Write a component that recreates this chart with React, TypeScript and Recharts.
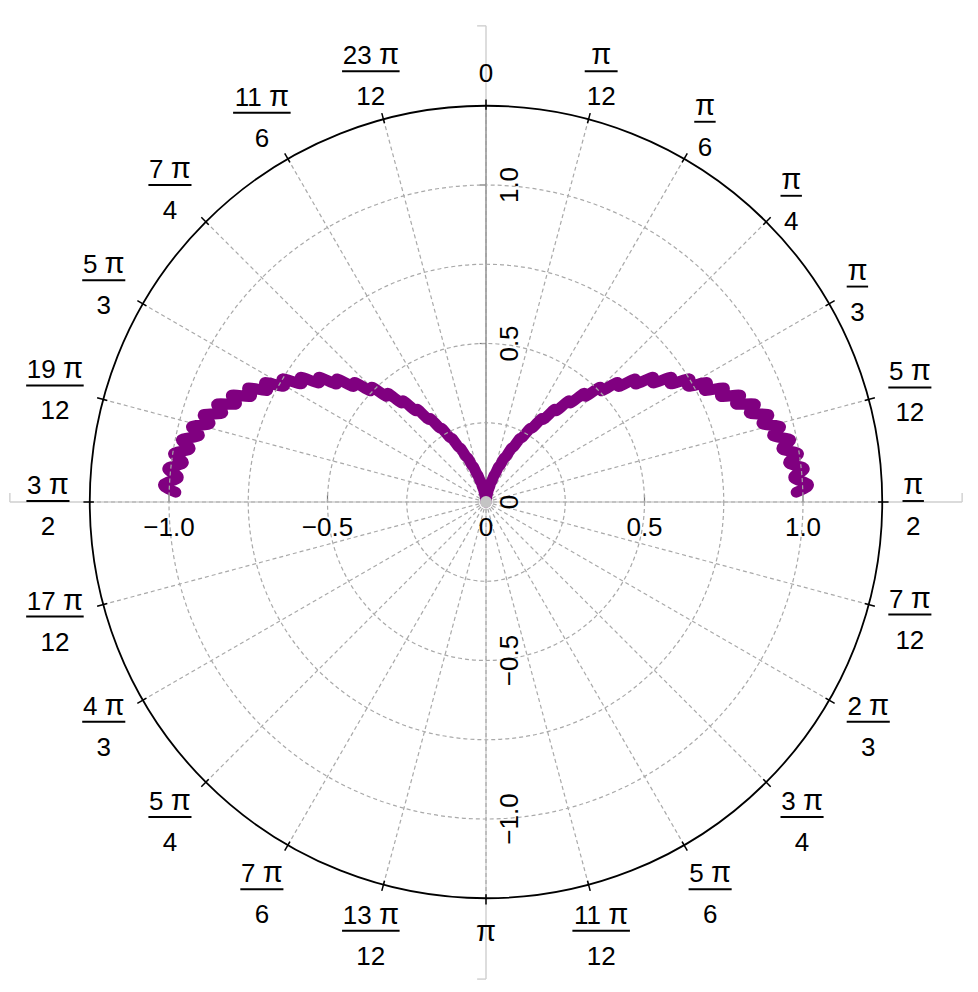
import React from 'react';
import { ComposedChart, XAxis, YAxis, Line, ReferenceLine, ReferenceDot } from 'recharts';

// ---------- layout ----------
const W = 978;
const H = 992;
const DOMAIN = 1.52;
const MARGIN = { left: 4.16, right: 10.16, top: 20.16, bottom: 8.16 };
const PX = (W - MARGIN.left - MARGIN.right) / (2 * DOMAIN); // pixels per data unit
const FONT = '"Liberation Sans", Arial, Helvetica, sans-serif';
const PI_FONT = '"Liberation Sans", Arial, sans-serif';
const FS = 26;
const PI_FS = 29;

// ---------- data (θ in degrees, clockwise from top; r radius) ----------
const rightTheta = [0, 1.4, 2.8, 4.2, 5.6, 7, 8.4, 9.8, 11.2, 12.6, 14, 15.4, 16.8, 18.2, 19.6, 21, 22.4, 23.8, 25.2, 26.6, 28, 29.4, 30.8, 32.2, 33.6, 35, 36.4, 37.8, 39.2, 40.6, 42, 43.4, 44.8, 46.2, 47.6, 49, 50.4, 51.8, 53.2, 54.6, 56, 57.4, 58.8, 60.2, 61.6, 63, 64.4, 65.8, 67.2, 68.6, 70, 71.4, 72.8, 74.2, 75.6, 77, 78.4, 79.8, 81.2, 82.6, 84, 85.4, 86.8, 88.2];
const rightR = [0, 0.001, 0.002, 0.005, 0.011, 0.014, 0.023, 0.027, 0.040, 0.046, 0.062, 0.068, 0.087, 0.095, 0.117, 0.124, 0.149, 0.158, 0.186, 0.195, 0.226, 0.235, 0.268, 0.278, 0.315, 0.320, 0.362, 0.366, 0.411, 0.413, 0.460, 0.460, 0.510, 0.507, 0.559, 0.556, 0.609, 0.602, 0.657, 0.648, 0.704, 0.692, 0.750, 0.735, 0.792, 0.775, 0.832, 0.813, 0.870, 0.847, 0.903, 0.878, 0.933, 0.906, 0.958, 0.929, 0.980, 0.949, 0.997, 0.963, 1.009, 0.974, 1.017, 0.979];
const leftTheta = [360, 358.6, 357.2, 355.8, 354.4, 353, 351.6, 350.2, 348.8, 347.4, 346, 344.6, 343.2, 341.8, 340.4, 339, 337.6, 336.2, 334.8, 333.4, 332, 330.6, 329.2, 327.8, 326.4, 325, 323.6, 322.2, 320.8, 319.4, 318, 316.6, 315.2, 313.8, 312.4, 311, 309.6, 308.2, 306.8, 305.4, 304, 302.6, 301.2, 299.8, 298.4, 297, 295.6, 294.2, 292.8, 291.4, 290, 288.6, 287.2, 285.8, 284.4, 283, 281.6, 280.2, 278.8, 277.4, 276, 274.6, 273.2, 271.8];
const leftR = [0, 0.001, 0.002, 0.005, 0.011, 0.014, 0.023, 0.027, 0.040, 0.046, 0.062, 0.068, 0.087, 0.095, 0.117, 0.124, 0.149, 0.158, 0.186, 0.195, 0.226, 0.235, 0.268, 0.278, 0.315, 0.320, 0.362, 0.366, 0.411, 0.413, 0.460, 0.460, 0.510, 0.507, 0.559, 0.556, 0.609, 0.602, 0.657, 0.648, 0.704, 0.692, 0.750, 0.735, 0.792, 0.775, 0.832, 0.813, 0.870, 0.847, 0.903, 0.878, 0.933, 0.906, 0.958, 0.929, 0.980, 0.949, 0.997, 0.963, 1.009, 0.974, 1.017, 0.979];

// ---------- grid / ticks ----------
const gridRadii = [0.25, 0.5, 0.75, 1.0];
const outerRadius = 1.25;
const angleTicks = [0, 15, 30, 45, 60, 75, 90, 105, 120, 135, 150, 165, 180, 195, 210, 225, 240, 255, 270, 285, 300, 315, 330, 345];
const angleNum = ['0', 'π', 'π', 'π', 'π', '5 π', 'π', '7 π', '2 π', '3 π', '5 π', '11 π', 'π', '13 π', '7 π', '5 π', '4 π', '17 π', '3 π', '19 π', '5 π', '7 π', '11 π', '23 π'];
const angleDen = ['', '12', '6', '4', '3', '12', '2', '12', '3', '4', '6', '12', '', '12', '6', '4', '3', '12', '2', '12', '3', '4', '6', '12'];
const radialTicks = [-1, -0.5, 0, 0.5, 1];
const radialTickLabels = ['−1.0', '−0.5', '0', '0.5', '1.0'];
const axisTicks = [-1, -0.5, 0.5, 1];
const upperAxisTicks = [0.5, 1];

// ---------- helpers ----------
const rad = (d: number) => (d * Math.PI) / 180;
const pol = (deg: number, r: number) => ({ x: r * Math.sin(rad(deg)), y: r * Math.cos(rad(deg)) });
const charW = (c: string) => (c === ' ' ? 0.278 * FS : c === 'π' ? 0.6 * PI_FS : 0.556 * FS);
const textW = (s: string) => s.split('').reduce((a, c) => a + charW(c), 0);

const rightPts = rightTheta.map((t, i) => pol(t, rightR[i]));
const leftPts = leftTheta.map((t, i) => pol(t, leftR[i]));

const txt = { fontFamily: FONT, fontSize: FS, fill: '#000' } as const;

// render a string, drawing π slightly larger
function Rich({ s }: { s: string }) {
  const parts = s.split('π');
  const out: any[] = [];
  parts.forEach((p, i) => {
    if (p) out.push(<tspan key={'t' + i}>{p}</tspan>);
    if (i < parts.length - 1) out.push(<tspan key={'p' + i} fontFamily={PI_FONT} fontSize={PI_FS}>π</tspan>);
  });
  return <>{out}</>;
}

function AngleLabel(props: any) {
  const { cx, cy, num, den } = props;
  if (!den) {
    return (
      <text x={cx} y={cy} textAnchor="middle" dominantBaseline="central" {...txt}>
        <Rich s={num} />
      </text>
    );
  }
  const w = Math.max(textW(num), textW(den)) + 4;
  return (
    <g>
      <text x={cx} y={cy - 8} textAnchor="middle" {...txt}><Rich s={num} /></text>
      <line x1={cx - w / 2} x2={cx + w / 2} y1={cy - 1} y2={cy - 1} stroke="#000" strokeWidth={1.9} />
      <text x={cx} y={cy + 33} textAnchor="middle" {...txt}>{den}</text>
    </g>
  );
}

// label box is pushed out until it touches a circle of radius R0 (px)
function labelRadius(deg: number, num: string, den: string) {
  const a = (den ? Math.max(textW(num), textW(den)) + 4 : textW(num)) / 2;
  const b = den ? 27.5 : 12.5;
  const s = Math.abs(Math.sin(rad(deg)));
  const c = Math.abs(Math.cos(rad(deg)));
  const ext = Math.min(s > 1e-6 ? a / s : 1e9, c > 1e-6 ? b / c : 1e9);
  return (416.5 + ext) / PX;
}

const SPOKE = '#a9a9a9';

export default function App() {
  return (
    <div style={{ position: 'absolute', left: 0, top: 0, background: '#fff' }}>
      <ComposedChart width={W} height={H} margin={MARGIN}>
        <XAxis type="number" dataKey="x" domain={[-DOMAIN, DOMAIN]} hide allowDataOverflow />
        <YAxis type="number" dataKey="y" domain={[-DOMAIN, DOMAIN]} hide allowDataOverflow />

        {/* light axis lines */}
        <ReferenceLine segment={[{ x: -1.502, y: 0 }, { x: 1.502, y: 0 }]} stroke="#cfcfcf" strokeWidth={1.4} ifOverflow="visible" />
        <ReferenceLine segment={[{ x: -1.502, y: 0 }, { x: -1.502, y: 0.028 }]} stroke="#cfcfcf" strokeWidth={1.4} ifOverflow="visible" />
        <ReferenceLine segment={[{ x: 1.502, y: 0 }, { x: 1.502, y: 0.028 }]} stroke="#cfcfcf" strokeWidth={1.4} ifOverflow="visible" />
        <ReferenceLine segment={[{ x: 0, y: -1.505 }, { x: 0, y: 1.502 }]} stroke="#cfcfcf" strokeWidth={1.4} ifOverflow="visible" />
        <ReferenceLine segment={[{ x: 0, y: 1.502 }, { x: -0.028, y: 1.502 }]} stroke="#cfcfcf" strokeWidth={1.4} ifOverflow="visible" />
        <ReferenceLine segment={[{ x: 0, y: -1.505 }, { x: -0.028, y: -1.505 }]} stroke="#cfcfcf" strokeWidth={1.4} ifOverflow="visible" />

        {/* dashed grid circles */}
        {gridRadii.map((g) => (
          <ReferenceDot key={'c' + g} x={0} y={0} r={g * PX} fill="none" stroke={SPOKE} strokeWidth={1.2} strokeDasharray="4 3" ifOverflow="visible" />
        ))}

        {/* spokes */}
        {angleTicks.map((a) => (
          <ReferenceLine key={'s' + a} segment={[{ x: 0, y: 0 }, pol(a, outerRadius)]} stroke={SPOKE} strokeWidth={1.2} strokeDasharray="4 3" ifOverflow="visible" />
        ))}

        {/* radial axis (upper) */}
        <ReferenceLine segment={[{ x: 0, y: 0 }, { x: 0, y: outerRadius }]} stroke="#9a9a9a" strokeWidth={1.4} ifOverflow="visible" />
        {upperAxisTicks.map((v) => (
          <ReferenceLine key={'ut' + v} segment={[{ x: 0, y: v }, { x: -0.02, y: v }]} stroke="#777" strokeWidth={1.2} ifOverflow="visible" />
        ))}
        {axisTicks.map((v) => (
          <ReferenceLine key={'ht' + v} segment={[{ x: v, y: 0 }, { x: v, y: 0.022 }]} stroke="#777" strokeWidth={1.2} ifOverflow="visible" />
        ))}

        {/* outer circle and its ticks */}
        <ReferenceDot x={0} y={0} r={outerRadius * PX} fill="none" stroke="#000" strokeWidth={1.8} ifOverflow="visible" />
        {angleTicks.map((a) => (
          <ReferenceLine key={'ot' + a} segment={[pol(a, 1.237), pol(a, 1.27)]} stroke="#000" strokeWidth={1.5} ifOverflow="visible" />
        ))}

        {/* origin marker */}
        <ReferenceDot x={0} y={0} r={6} fill="#c4c4c4" stroke="none" ifOverflow="visible" />

        {/* curve */}
        <Line data={rightPts} dataKey="y" type="natural" stroke="#800080" strokeWidth={11} strokeLinecap="round" strokeLinejoin="round" dot={false} activeDot={false} isAnimationActive={false} />
        <Line data={leftPts} dataKey="y" type="natural" stroke="#800080" strokeWidth={11} strokeLinecap="round" strokeLinejoin="round" dot={false} activeDot={false} isAnimationActive={false} />

        {/* angular labels */}
        {angleTicks.map((a, i) => {
          const p = pol(a, labelRadius(a, angleNum[i], angleDen[i]));
          return (
            <ReferenceDot
              key={'al' + a}
              x={p.x}
              y={p.y}
              r={0}
              ifOverflow="visible"
              shape={(sp: any) => <AngleLabel cx={sp.cx} cy={sp.cy} num={angleNum[i]} den={angleDen[i]} />}
            />
          );
        })}

        {/* radial labels: horizontal */}
        {radialTicks.map((v, i) => (
          <ReferenceDot
            key={'hl' + v}
            x={v}
            y={0}
            r={0}
            ifOverflow="visible"
            shape={(sp: any) => (
              <text x={sp.cx} y={sp.cy + 34} textAnchor="middle" {...txt}>{radialTickLabels[i]}</text>
            )}
          />
        ))}
        {/* radial labels: vertical (rotated) */}
        {radialTicks.map((v, i) => (
          <ReferenceDot
            key={'vl' + v}
            x={0}
            y={v}
            r={0}
            ifOverflow="visible"
            shape={(sp: any) => (
              <text
                x={sp.cx + 22.5}
                y={sp.cy}
                textAnchor="middle"
                dominantBaseline="central"
                transform={`rotate(-90, ${sp.cx + 22.5}, ${sp.cy})`}
                {...txt}
              >
                {radialTickLabels[i]}
              </text>
            )}
          />
        ))}
      </ComposedChart>
    </div>
  );
}
